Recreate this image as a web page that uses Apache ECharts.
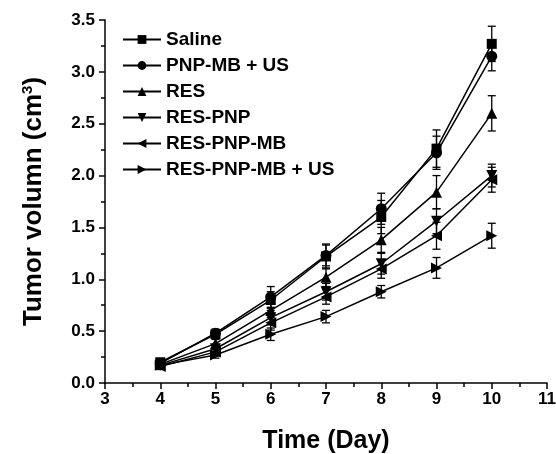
<!DOCTYPE html>
<html>
<head>
<meta charset="utf-8">
<script src="https://cdn.jsdelivr.net/npm/echarts@6/dist/echarts.min.js"></script>
<style>
  html, body { margin: 0; padding: 0; background: #fff; }
  #chart { width: 556px; height: 454px; }
</style>
</head>
<body>
<div id="chart"></div>
<script>
const days = [4, 5, 6, 7, 8, 9, 10];

const saline = [0.20, 0.47, 0.80, 1.22, 1.60, 2.26, 3.27];
const pnpMbUs = [0.19, 0.48, 0.83, 1.23, 1.68, 2.22, 3.15];
const res = [0.18, 0.38, 0.70, 1.02, 1.38, 1.84, 2.60];
const resPnp = [0.17, 0.33, 0.63, 0.88, 1.15, 1.56, 2.00];
const resPnpMb = [0.16, 0.30, 0.58, 0.83, 1.10, 1.42, 1.96];
const resPnpMbUs = [0.17, 0.27, 0.47, 0.64, 0.88, 1.11, 1.42];

const salineErr = [0.03, 0.04, 0.08, 0.12, 0.16, 0.18, 0.17];
const pnpMbUsErr = [0.03, 0.04, 0.10, 0.10, 0.15, 0.16, 0.14];
const resErr = [0.03, 0.04, 0.07, 0.09, 0.12, 0.16, 0.17];
const resPnpErr = [0.03, 0.04, 0.07, 0.08, 0.10, 0.12, 0.11];
const resPnpMbErr = [0.03, 0.04, 0.07, 0.07, 0.09, 0.13, 0.12];
const resPnpMbUsErr = [0.03, 0.03, 0.06, 0.06, 0.06, 0.10, 0.12];

const names = ['Saline', 'PNP-MB + US', 'RES', 'RES-PNP', 'RES-PNP-MB', 'RES-PNP-MB + US'];
const values = [saline, pnpMbUs, res, resPnp, resPnpMb, resPnpMbUs];
const errors = [salineErr, pnpMbUsErr, resErr, resPnpErr, resPnpMbErr, resPnpMbUsErr];
const symbols = ['rect', 'circle', 'triangle', 'triangle', 'triangle', 'triangle'];
const rotations = [0, 0, 0, 180, 90, -90];

const font = 'Arial, "Liberation Sans", sans-serif';

const lineSeries = names.map((name, i) => ({
  name: name,
  type: 'line',
  data: days.map((d, j) => [d, values[i][j]]),
  symbol: symbols[i],
  symbolRotate: rotations[i],
  symbolSize: i === 0 ? 10 : 11,
  lineStyle: { color: '#000', width: 1.5 },
  itemStyle: { color: '#000' },
  z: 3
}));

// error bars drawn as a separate custom series per group
const errSeries = names.map((name, i) => ({
  name: 'err-' + i,
  type: 'custom',
  data: days.map((d, j) => [d, values[i][j] - errors[i][j], values[i][j] + errors[i][j]]),
  renderItem: (params, api) => {
    const lo = api.coord([api.value(0), api.value(1)]);
    const hi = api.coord([api.value(0), api.value(2)]);
    const w = 4;
    const st = { stroke: '#000', lineWidth: 1.3 };
    return {
      type: 'group',
      children: [
        { type: 'line', shape: { x1: hi[0], y1: hi[1], x2: lo[0], y2: lo[1] }, style: st },
        { type: 'line', shape: { x1: hi[0] - w, y1: hi[1], x2: hi[0] + w, y2: hi[1] }, style: st },
        { type: 'line', shape: { x1: lo[0] - w, y1: lo[1], x2: lo[0] + w, y2: lo[1] }, style: st }
      ]
    };
  },
  z: 2
}));

const chart = echarts.init(document.getElementById('chart'));
chart.setOption({
  animation: false,
  backgroundColor: '#fff',
  color: ['#000'],
  grid: { left: 105, right: 9, top: 20, bottom: 71, outerBoundsMode: 'none' },
  legend: {
    data: names,
    orient: 'vertical',
    left: 117,
    top: 25,
    itemWidth: 38,
    itemHeight: 11,
    itemGap: 7,
    textStyle: { fontFamily: font, fontWeight: 'bold', fontSize: 19, color: '#000' }
  },
  xAxis: {
    type: 'value',
    min: 3,
    max: 11,
    interval: 1,
    name: 'Time (Day)',
    nameLocation: 'middle',
    nameGap: 46,
    nameTextStyle: { fontFamily: font, fontWeight: 'bold', fontSize: 25, color: '#000' },
    axisLine: { lineStyle: { color: '#000', width: 1.5 } },
    axisTick: { show: true, length: 6, lineStyle: { color: '#000', width: 1.5 } },
    minorTick: { show: true, splitNumber: 2, length: 4, lineStyle: { color: '#000', width: 1.5 } },
    axisLabel: { fontFamily: font, fontWeight: 'bold', fontSize: 17, color: '#000', margin: 8 },
    splitLine: { show: false }
  },
  yAxis: {
    type: 'value',
    min: 0,
    max: 3.5,
    interval: 0.5,
    name: '{t|Tumor volumn (cm}{s|3}{t|)}',
    nameLocation: 'middle',
    nameGap: 58,
    nameTextStyle: {
      rich: {
        t: { fontFamily: font, fontWeight: 'bold', fontSize: 26, color: '#000' },
        s: { fontFamily: font, fontWeight: 'bold', fontSize: 15, color: '#000', verticalAlign: 'top', padding: [0, 0, 12, 0] }
      }
    },
    axisLine: { show: true, lineStyle: { color: '#000', width: 1.5 } },
    axisTick: { show: true, length: 6, lineStyle: { color: '#000', width: 1.5 } },
    minorTick: { show: true, splitNumber: 2, length: 4, lineStyle: { color: '#000', width: 1.5 } },
    axisLabel: {
      fontFamily: font, fontWeight: 'bold', fontSize: 17, color: '#000', margin: 10,
      formatter: v => v.toFixed(1)
    },
    splitLine: { show: false }
  },
  series: [...lineSeries, ...errSeries]
});
</script>
</body>
</html>
